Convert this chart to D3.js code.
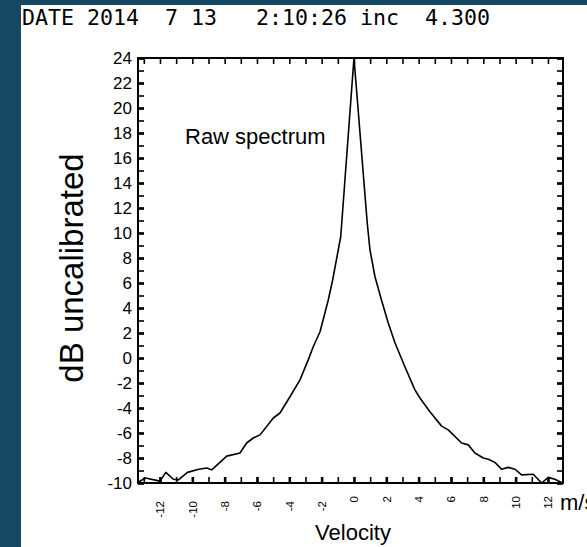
<!DOCTYPE html>
<html>
<head>
<meta charset="utf-8">
<script src="https://cdn.jsdelivr.net/npm/d3@7"></script>
<style>
  html, body { margin: 0; padding: 0; background: #164863; overflow: hidden; }
  svg { display: block; }
</style>
</head>
<body>
<script>
// raw spectrum
var velocity = [-13.3, -12.9, -12.0, -11.64, -11.17, -10.86, -10.3, -9.6, -9.1, -8.8, -7.87, -7.05, -6.64, -6.23,
    -5.81, -4.99, -4.58, -3.96, -3.34, -2.83, -2.52, -2.1, -1.59, -1.32, -0.82, 0,
    0.82, 0.99, 1.3, 1.71, 2.12, 2.54, 3.15, 3.77, 4.08, 4.7, 5.42, 5.83, 6.66, 7.07, 7.48,
    8.0, 8.31, 8.72, 9.13, 9.54, 9.96, 10.37, 11.09, 11.61, 12.02, 12.43, 12.9];
var power = [-9.9, -9.6, -9.85, -9.15, -9.7, -9.75, -9.15, -8.9, -8.8, -8.95, -7.85, -7.6, -6.8, -6.4,
    -6.15, -4.8, -4.4, -3.1, -1.75, -0.15, 0.9, 2.1, 4.64, 6.24, 9.7, 24,
    10.8, 8.64, 6.5, 4.6, 2.8, 1.2, -0.7, -2.55, -3.2, -4.3, -5.45, -5.75, -6.8, -6.95, -7.6,
    -8.0, -8.1, -8.35, -8.9, -8.75, -8.9, -9.35, -9.3, -10.0, -9.55, -9.7, -10.0];

var xMinor = [-13, -12, -11, -10, -9, -8, -7, -6, -5, -4, -3, -2, -1, 0, 1, 2, 3, 4, 5, 6, 7, 8, 9, 10, 11, 12];
var xLabels = [-12, -10, -8, -6, -4, -2, 0, 2, 4, 6, 8, 10, 12];
var yMinor = [-10, -9, -8, -7, -6, -5, -4, -3, -2, -1, 0, 1, 2, 3, 4, 5, 6, 7, 8, 9, 10, 11, 12,
    13, 14, 15, 16, 17, 18, 19, 20, 21, 22, 23, 24];
var yLabels = [-10, -8, -6, -4, -2, 0, 2, 4, 6, 8, 10, 12, 14, 16, 18, 20, 22, 24];

var header = "DATE 2014  7 13   2:10:26 inc  4.300";

var W = 587, H = 547;
var pL = 138, pR = 563, pT = 58, pB = 483;
var font = 'Liberation Sans, Arial, sans-serif';

var svg = d3.select('body').append('svg').attr('width', W).attr('height', H);

svg.append('rect').attr('x', 21).attr('y', 5).attr('width', W - 21).attr('height', H - 5).attr('fill', '#fff');

var x = d3.scaleLinear().domain([-13.36, 12.93]).range([pL, pR]);
var y = d3.scaleLinear().domain([-10, 24]).range([pB, pT]);

svg.append('text')
    .attr('x', 22).attr('y', 25)
    .attr('font-family', 'DejaVu Sans Mono')
    .attr('font-size', 21.6)
    .style('white-space', 'pre')
    .text(header);

svg.append('defs').append('clipPath').attr('id', 'plot')
    .append('rect').attr('x', pL).attr('y', pT).attr('width', pR - pL).attr('height', pB - pT);

var line = d3.line()
    .x(function (d, i) { return x(velocity[i]); })
    .y(function (d) { return y(d); });

svg.append('path')
    .datum(power)
    .attr('clip-path', 'url(#plot)')
    .attr('fill', 'none')
    .attr('stroke', '#000')
    .attr('stroke-width', 1.6)
    .attr('stroke-linejoin', 'round')
    .attr('d', line);

function styleAxis(g, w) {
    g.select('.domain').remove();
    g.selectAll('.tick line').attr('stroke', '#000').attr('stroke-width', w);
}

// minor ticks, pointing inward on all four sides
svg.append('g').attr('transform', 'translate(' + pL + ',0)')
    .call(d3.axisLeft(y).tickValues(yMinor).tickSize(-6).tickFormat(''))
    .call(styleAxis, 1.6);
svg.append('g').attr('transform', 'translate(' + pR + ',0)')
    .call(d3.axisRight(y).tickValues(yMinor).tickSize(-6).tickFormat(''))
    .call(styleAxis, 1.6);
svg.append('g').attr('transform', 'translate(0,' + pB + ')')
    .call(d3.axisBottom(x).tickValues(xMinor).tickSize(-6).tickFormat(''))
    .call(styleAxis, 1.6);
svg.append('g').attr('transform', 'translate(0,' + pT + ')')
    .call(d3.axisTop(x).tickValues(xMinor).tickSize(-6).tickFormat(''))
    .call(styleAxis, 1.6);

// labelled ticks
var yAxis = svg.append('g').attr('transform', 'translate(' + pL + ',0)')
    .call(d3.axisLeft(y).tickValues(yLabels).tickSize(-6).tickPadding(6).tickFormat(String))
    .call(styleAxis, 2.6);
yAxis.selectAll('text').attr('font-family', font).attr('font-size', 17).attr('fill', '#000');

svg.append('g').attr('transform', 'translate(' + pR + ',0)')
    .call(d3.axisRight(y).tickValues(yLabels).tickSize(-6).tickFormat(''))
    .call(styleAxis, 2.6);

var xAxis = svg.append('g').attr('transform', 'translate(0,' + pB + ')')
    .call(d3.axisBottom(x).tickValues(xLabels).tickSize(-6).tickFormat(String))
    .call(styleAxis, 2.6);
xAxis.selectAll('text')
    .attr('font-family', font)
    .attr('font-size', 11.5)
    .attr('fill', '#000')
    .attr('text-anchor', 'end')
    .attr('dy', null)
    .attr('y', null)
    .attr('transform', function (d) { return 'translate(4,' + (d < 0 ? 18 : 13) + ') rotate(-90)'; });

// frame
svg.append('rect')
    .attr('x', pL).attr('y', pT).attr('width', pR - pL).attr('height', pB - pT)
    .attr('fill', 'none').attr('stroke', '#000').attr('stroke-width', 2);

svg.append('text').attr('x', 185).attr('y', 144)
    .attr('font-family', font).attr('font-size', 22)
    .text('Raw spectrum');

svg.append('text').attr('x', 353).attr('y', 540).attr('text-anchor', 'middle')
    .attr('font-family', font).attr('font-size', 22)
    .text('Velocity');

svg.append('text').attr('x', 560).attr('y', 510)
    .attr('font-family', font).attr('font-size', 22)
    .text('m/s');

svg.append('text')
    .attr('transform', 'translate(83,268) rotate(-90)')
    .attr('text-anchor', 'middle')
    .attr('font-family', font).attr('font-size', 33)
    .text('dB uncalibrated');
</script>
</body>
</html>
